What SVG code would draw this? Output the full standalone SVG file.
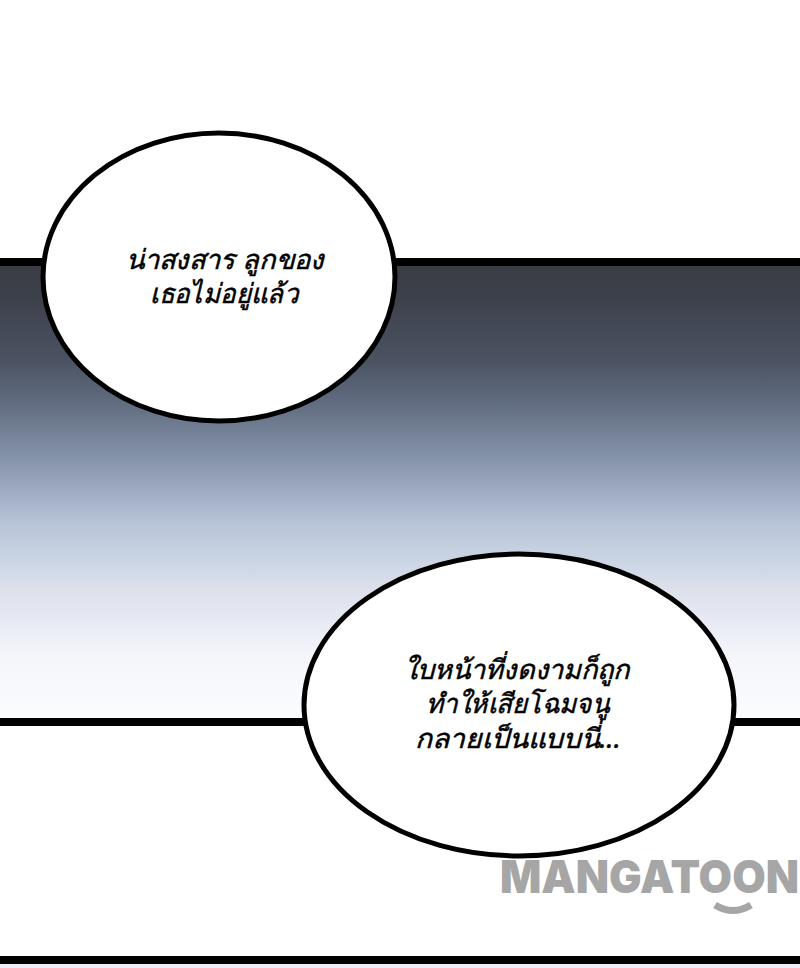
<svg xmlns="http://www.w3.org/2000/svg" width="800" height="968" viewBox="0 0 800 968">
<defs><linearGradient id="g" gradientUnits="userSpaceOnUse" x1="0" y1="266" x2="0" y2="718">
<stop offset="0" stop-color="#3a3d44"/><stop offset="0.075" stop-color="#3d414b"/><stop offset="0.204" stop-color="#4a5261"/><stop offset="0.296" stop-color="#5f6a7e"/><stop offset="0.352" stop-color="#6f7b90"/><stop offset="0.425" stop-color="#8593ab"/><stop offset="0.498" stop-color="#9fabc3"/><stop offset="0.573" stop-color="#b9c5d8"/><stop offset="0.646" stop-color="#c9d4e3"/><stop offset="0.719" stop-color="#dde1ec"/><stop offset="0.794" stop-color="#e9ebf5"/><stop offset="0.867" stop-color="#f5f6fb"/><stop offset="1" stop-color="#fbfcfe"/></linearGradient></defs>
<style>.b{fill:#fff;stroke:#000;stroke-width:5}.t{font-family:"Noto Sans","DejaVu Sans",sans-serif;font-size:27px;font-style:italic;fill:#000;stroke:#000;stroke-width:.5}</style>
<rect width="800" height="968" fill="#fff"/>
<rect y="262" width="800" height="460" fill="url(#g)"/>
<rect y="258" width="800" height="8" fill="#000"/>
<rect y="718" width="800" height="8" fill="#000"/>
<rect y="956" width="800" height="8" fill="#000"/>
<rect y="964" width="800" height="4" fill="#eeeef6"/>
<g id="bubble1"><ellipse class="b" cx="219" cy="277" rx="176" ry="144"/>
<text class="t" x="126" y="269" textLength="197" lengthAdjust="spacingAndGlyphs">น่าสงสาร ลูกของ</text><text class="t" x="150" y="303" textLength="148" lengthAdjust="spacingAndGlyphs">เธอไม่อยู่แล้ว</text></g>
<g id="bubble2"><ellipse class="b" cx="519" cy="705" rx="215" ry="151"/>
<text class="t" x="404" y="679" textLength="225" lengthAdjust="spacingAndGlyphs">ใบหน้าที่งดงามก็ถูก</text><text class="t" x="426" y="713" textLength="183" lengthAdjust="spacingAndGlyphs">ทำให้เสียโฉมจนู</text><text class="t" x="415" y="748" textLength="206" lengthAdjust="spacingAndGlyphs">กลายเป็นแบบนี่...</text></g>
<g id="watermark"><text x="500" y="893" font-family="Inter,'Liberation Sans',sans-serif" font-weight="900" font-size="45" fill="#a6a6a6" textLength="299" lengthAdjust="spacingAndGlyphs">MANGATOON</text>
<path d="M715 905Q733 916 751 905" fill="none" stroke="#a6a6a6" stroke-width="7"/></g>
</svg>
